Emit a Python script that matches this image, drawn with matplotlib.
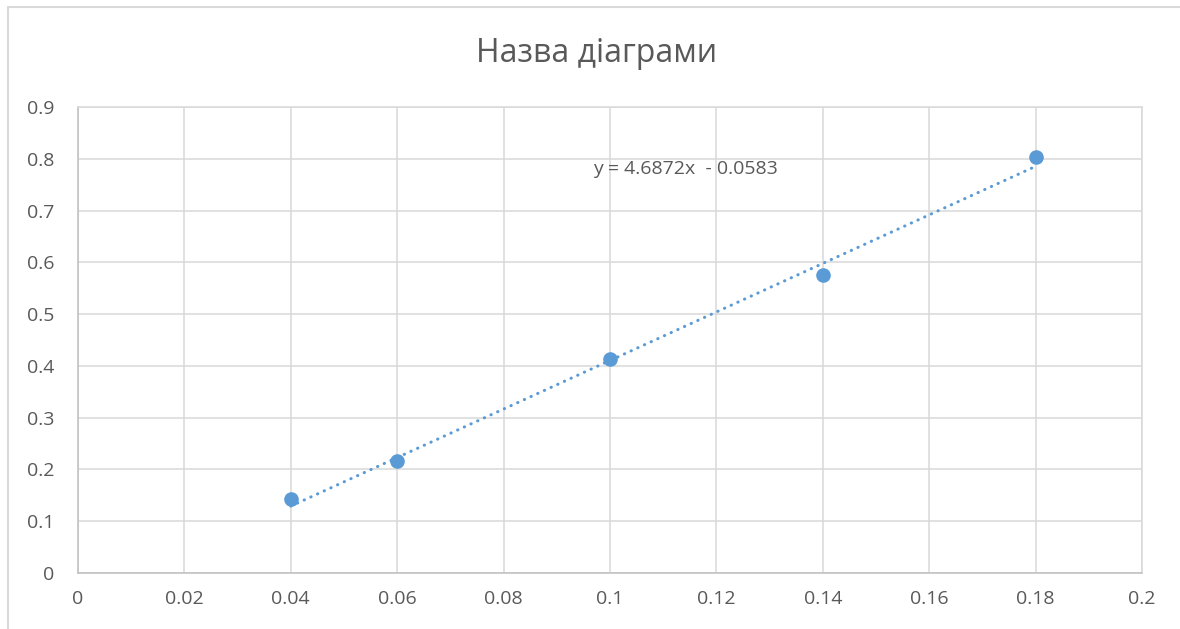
import numpy as np
import matplotlib
matplotlib.use("Agg")
import matplotlib.pyplot as plt
from matplotlib.patches import Rectangle

# data
x_vals = [0.04, 0.06, 0.10, 0.14, 0.18]
y_vals = [0.143, 0.217, 0.414, 0.575, 0.803]
slope = 4.6872
intercept = -0.0583
title = "Назва діаграми"
x_ticks = [0, 0.02, 0.04, 0.06, 0.08, 0.1, 0.12, 0.14, 0.16, 0.18, 0.2]
y_ticks = [0, 0.1, 0.2, 0.3, 0.4, 0.5, 0.6, 0.7, 0.8, 0.9]

plt.rcParams['font.family'] = ['Open Sans', 'DejaVu Sans']

blue = "#5B9BD5"
text_col = "#595959"
grid_col = "#D9D9D9"

fig = plt.figure(figsize=(11.8, 6.29), dpi=100)
ax = fig.add_axes([78 / 1180, 1 - 573 / 629, 1064 / 1180, 466 / 629])

# outer chart border
fig.patches.append(Rectangle((8 / 1180, -0.05), 1.2, 1 - 7 / 629 + 0.05,
                             transform=fig.transFigure, fill=False,
                             edgecolor=grid_col, linewidth=1.5))

ax.set_xlim(0, 0.2)
ax.set_ylim(0, 0.9)
ax.set_xticks(x_ticks)
ax.set_yticks(y_ticks)
ax.set_xticklabels([f"{v:g}" for v in x_ticks])
ax.set_yticklabels([f"{v:g}" for v in y_ticks])
ax.grid(True, color=grid_col, linewidth=1.1)
ax.set_axisbelow(True)
ax.tick_params(length=0, labelsize=14, colors=text_col)
ax.tick_params(axis='y', pad=17)
ax.tick_params(axis='x', pad=12)
for side in ['top', 'right']:
    ax.spines[side].set_color(grid_col)
    ax.spines[side].set_linewidth(1.1)
for side in ['left', 'bottom']:
    ax.spines[side].set_color("#BFBFBF")
    ax.spines[side].set_linewidth(1.1)

# trendline
tx = np.array([min(x_vals), max(x_vals)])
ax.plot(tx, slope * tx + intercept, color=blue, linewidth=2.2,
        linestyle=(0, (0.1, 2.3)), dash_capstyle='round', zorder=3)

ax.plot(x_vals, y_vals, 'o', color=blue, markersize=9.5, zorder=4)

ax.text(0.0968, 0.781, f"y = {slope}x  - {abs(intercept)}", fontsize=14,
        color=text_col, va='center', ha='left')

fig.text(597 / 1180, 1 - 53 / 629, title, fontsize=23, color=text_col,
         ha='center', va='center')

fig.savefig("out.png", dpi=100)
